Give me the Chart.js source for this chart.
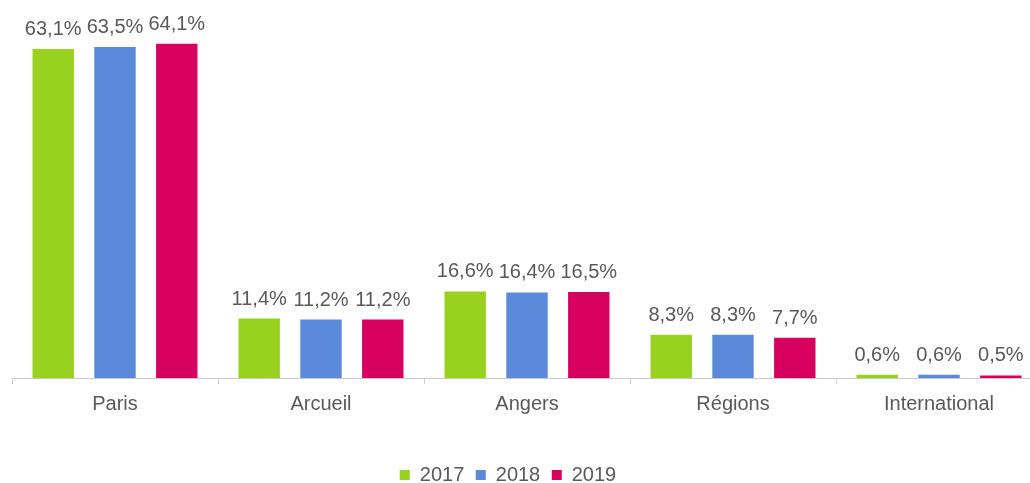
<!DOCTYPE html>
<html>
<head>
<meta charset="utf-8">
<script src="https://cdn.jsdelivr.net/npm/chart.js@4.4.1/dist/chart.umd.min.js"></script>
<style>
  html, body { margin: 0; padding: 0; background: #ffffff; overflow: hidden; }
  #wrap { position: relative; width: 1050px; height: 483px; }
</style>
</head>
<body>
<div id="wrap"><canvas id="c"></canvas></div>
<script>
const categories = ['Paris', 'Arcueil', 'Angers', 'Régions', 'International'];
const seriesNames = ['2017', '2018', '2019'];
const values2017 = [63.1, 11.4, 16.6, 8.3, 0.6];
const values2018 = [63.5, 11.2, 16.4, 8.3, 0.6];
const values2019 = [64.1, 11.2, 16.5, 7.7, 0.5];
const seriesColors = ['#98D11F', '#5A8AD9', '#D70060'];

const TEXT = '#595959';
const FONT = 'Liberation Sans, Arial, sans-serif';

const dataLabels = {
  id: 'dataLabels',
  afterDatasetsDraw(chart) {
    const ctx = chart.ctx;
    ctx.save();
    ctx.font = '20px ' + FONT;
    ctx.fillStyle = TEXT;
    ctx.textAlign = 'center';
    ctx.textBaseline = 'alphabetic';
    chart.data.datasets.forEach((ds, i) => {
      chart.getDatasetMeta(i).data.forEach((bar, j) => {
        const txt = ds.data[j].toFixed(1).replace('.', ',') + '%';
        ctx.fillText(txt, bar.x, bar.y - 14);
      });
    });
    ctx.restore();
  }
};

const legendShift = {
  id: 'legendShift',
  afterLayout(chart) {
    const lg = chart.legend;
    if (!lg) return;
    lg.left -= 19; lg.right -= 19;
    lg.top += 12; lg.bottom += 12;
  }
};

new Chart(document.getElementById('c'), {
  type: 'bar',
  data: {
    labels: categories,
    datasets: [
      { label: seriesNames[0], data: values2017, backgroundColor: seriesColors[0] },
      { label: seriesNames[1], data: values2018, backgroundColor: seriesColors[1] },
      { label: seriesNames[2], data: values2019, backgroundColor: seriesColors[2] }
    ]
  },
  options: {
    responsive: true,
    maintainAspectRatio: false,
    animation: false,
    layout: { padding: { left: 12, right: 8, top: 13, bottom: 0 } },
    datasets: { bar: { categoryPercentage: 0.9, barPercentage: 0.67, borderWidth: 0 } },
    plugins: {
      legend: {
        position: 'bottom',
        labels: {
          boxWidth: 10, boxHeight: 10, padding: 11.5,
          color: TEXT, font: { family: FONT, size: 20 }
        }
      },
      tooltip: { enabled: false }
    },
    scales: {
      x: {
        grid: { offset: true, drawOnChartArea: false, drawTicks: true, tickLength: 6, color: '#d0d0d0' },
        border: { display: true, color: '#c8c8c8' },
        ticks: { color: TEXT, font: { family: FONT, size: 20 }, padding: 8 },
        afterFit(scale) { scale.height = 63.5; }
      },
      y: {
        display: false,
        min: 0, max: 70
      }
    }
  },
  plugins: [dataLabels, legendShift]
});
</script>
</body>
</html>
